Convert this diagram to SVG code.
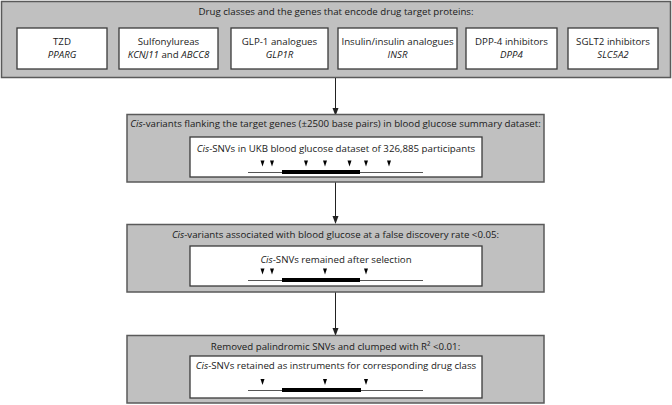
<svg xmlns="http://www.w3.org/2000/svg" width="672" height="405" viewBox="0 0 672 405">
<style>
.outer{fill:#c0c0c0;stroke:#5a5a5a;stroke-width:1.5}
.inner{fill:#ffffff;stroke:#3a3a3a;stroke-width:1.3}
text{font-family:"Open Sans","Liberation Sans",sans-serif;font-size:9.7px;fill:#1a1a1a;text-anchor:middle}
.it{font-style:italic}
.thin{stroke:#555;stroke-width:1;fill:none}
.thick{stroke:#000;stroke-width:4;fill:none}
.snp{fill:#000}
.conn{stroke:#222;stroke-width:1;fill:none}
</style>
<defs>
<marker id="ah" markerWidth="8" markerHeight="8" refX="4" refY="4" orient="auto" markerUnits="userSpaceOnUse">
<path d="M0,1 L8,4 L0,7 Z" fill="#222"/>
</marker>
<path id="tri" d="M-2,-3 L2,-3 L0,3 Z"/>
</defs>

<g id="drug-classes">
<rect class="outer" x="1.5" y="1.5" width="669" height="76"/>
<text x="336" y="14.5">Drug classes and the genes that encode drug target proteins:</text>
<g id="tzd"><rect class="inner" x="17" y="28" width="90" height="41"/><text x="62" y="45">TZD</text><text class="it" x="62" y="57.5">PPARG</text></g>
<g id="sulfonylureas"><rect class="inner" x="119" y="28" width="99" height="41"/><text x="168.5" y="45">Sulfonylureas</text><text x="168.5" y="57.5"><tspan class="it">KCNJ11</tspan> and <tspan class="it">ABCC8</tspan></text></g>
<g id="glp1"><rect class="inner" x="231" y="28" width="97" height="41"/><text x="279.5" y="45">GLP-1 analogues</text><text class="it" x="279.5" y="57.5">GLP1R</text></g>
<g id="insulin"><rect class="inner" x="338" y="28" width="119" height="41"/><text x="397.5" y="45">Insulin/insulin analogues</text><text class="it" x="397.5" y="57.5">INSR</text></g>
<g id="dpp4"><rect class="inner" x="466" y="28" width="91" height="41"/><text x="511.5" y="45">DPP-4 inhibitors</text><text class="it" x="511.5" y="57.5">DPP4</text></g>
<g id="sglt2"><rect class="inner" x="568" y="28" width="90" height="41"/><text x="613" y="45">SGLT2 inhibitors</text><text class="it" x="613" y="57.5">SLC5A2</text></g>
</g>

<g id="connectors">
<line class="conn" x1="335.5" y1="78" x2="335.5" y2="112" marker-end="url(#ah)"/>
<line class="conn" x1="335.5" y1="182" x2="335.5" y2="220" marker-end="url(#ah)"/>
<line class="conn" x1="335.5" y1="292" x2="335.5" y2="332" marker-end="url(#ah)"/>
</g>

<g id="cis-variants">
<rect class="outer" x="127" y="114.5" width="417" height="67.5"/>
<text x="335.5" y="127"><tspan class="it">Cis</tspan>-variants flanking the target genes (±2500 base pairs) in blood glucose summary dataset:</text>
<rect class="inner" x="190" y="137" width="292" height="40"/>
<text x="336" y="152"><tspan class="it">Cis</tspan>-SNVs in UKB blood glucose dataset of 326,885 participants</text>
<line class="thin" x1="248" y1="172.5" x2="423" y2="172.5"/>
<line class="thick" x1="282" y1="172" x2="360" y2="172"/>
<use href="#tri" class="snp" x="262.5" y="163.5"/>
<use href="#tri" class="snp" x="272" y="163.5"/>
<use href="#tri" class="snp" x="306" y="163.5"/>
<use href="#tri" class="snp" x="325" y="163.5"/>
<use href="#tri" class="snp" x="349.5" y="163.5"/>
<use href="#tri" class="snp" x="366" y="163.5"/>
<use href="#tri" class="snp" x="389" y="163.5"/>
</g>

<g id="fdr-selection">
<rect class="outer" x="127" y="224.5" width="417" height="67.5"/>
<text x="335.5" y="238"><tspan class="it">Cis</tspan>-variants associated with blood glucose at a false discovery rate &lt;0.05:</text>
<rect class="inner" x="190" y="246" width="292" height="40"/>
<text x="336" y="263"><tspan class="it">Cis</tspan>-SNVs remained after selection</text>
<line class="thin" x1="248" y1="280.5" x2="423" y2="280.5"/>
<line class="thick" x1="282" y1="280" x2="360" y2="280"/>
<use href="#tri" class="snp" x="262.5" y="271.5"/>
<use href="#tri" class="snp" x="272" y="271.5"/>
<use href="#tri" class="snp" x="325" y="271.5"/>
<use href="#tri" class="snp" x="366" y="271.5"/>
</g>

<g id="clumping">
<rect class="outer" x="127" y="335.5" width="417" height="67.5"/>
<text x="335.5" y="350">Removed palindromic SNVs and clumped with R² &lt;0.01:</text>
<rect class="inner" x="190" y="356" width="292" height="42"/>
<text x="336" y="369"><tspan class="it">Cis</tspan>-SNVs retained as instruments for corresponding drug class</text>
<line class="thin" x1="248" y1="390.5" x2="423" y2="390.5"/>
<line class="thick" x1="282" y1="390" x2="361" y2="390"/>
<use href="#tri" class="snp" x="262.5" y="382"/>
<use href="#tri" class="snp" x="325" y="382"/>
<use href="#tri" class="snp" x="366" y="382"/>
</g>
</svg>
